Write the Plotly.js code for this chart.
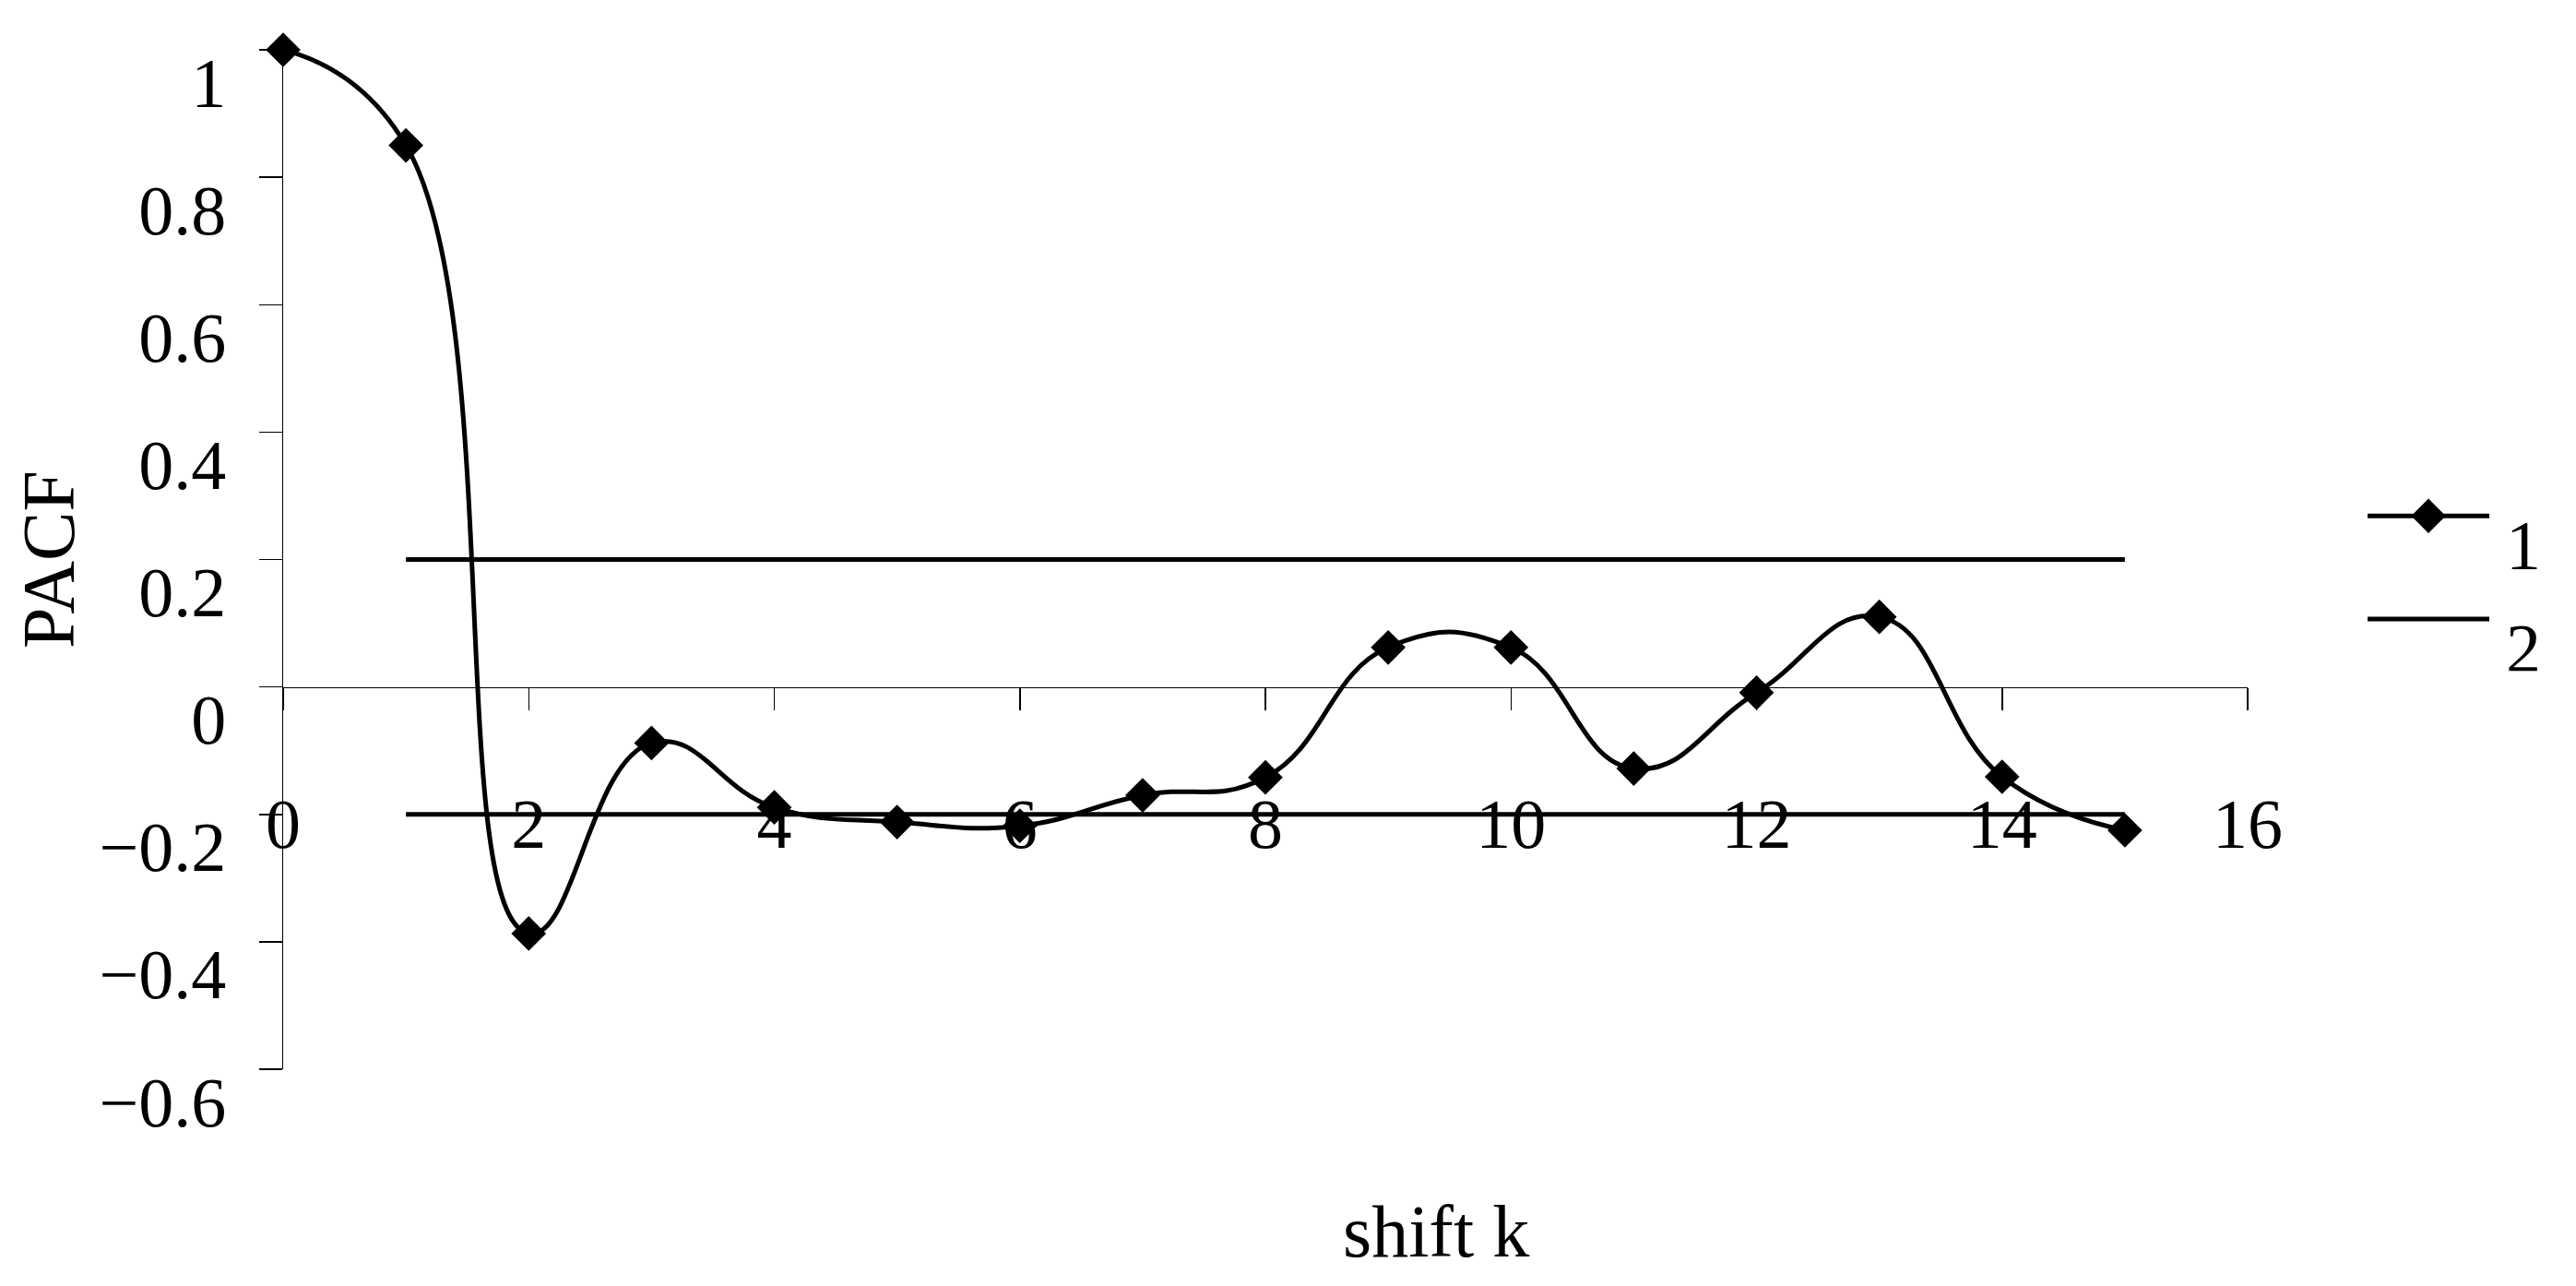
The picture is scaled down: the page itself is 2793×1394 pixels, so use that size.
<!DOCTYPE html>
<html>
<head>
<meta charset="utf-8">
<script src="https://cdn.plot.ly/plotly-3.0.1.min.js"></script>
<style>
  html, body { margin: 0; padding: 0; background: #ffffff; }
  #chart { width: 2793px; height: 1394px; }
</style>
</head>
<body>
<div id="chart"></div>
<script>
// ---- data ----
const shiftK = [0, 1, 2, 3, 4, 5, 6, 7, 8, 9, 10, 11, 12, 13, 14, 15];
const pacf   = [1.0, 0.85, -0.387, -0.088, -0.189, -0.212, -0.218, -0.170, -0.142, 0.062, 0.062, -0.128, -0.009, 0.110, -0.141, -0.225];
const boundX = [1, 15];
const upperBound = 0.2;
const lowerBound = -0.2;
const xTickVals = [0, 2, 4, 6, 8, 10, 12, 14, 16];
const yTickVals = [-0.6, -0.4, -0.2, 0, 0.2, 0.4, 0.6, 0.8, 1];
const seriesNames = ['1', '2'];
const xTitle = 'shift k';
const yTitle = 'PACF';

const FONT = '"Liberation Serif", "Times New Roman", serif';

const boundXs = [boundX[0], boundX[1], null, boundX[0], boundX[1]];
const boundYs = [upperBound, upperBound, null, lowerBound, lowerBound];

const traces = [
  {
    x: shiftK, y: pacf, name: seriesNames[0], type: 'scatter', mode: 'lines+markers',
    line: { color: '#000000', width: 5, shape: 'spline', smoothing: 1.3 },
    marker: { symbol: 'diamond', size: 29, color: '#000000' },
    cliponaxis: false,
    legendgroup: 'a'
  },
  {
    x: boundXs, y: boundYs, name: seriesNames[1], type: 'scatter', mode: 'lines',
    line: { color: '#000000', width: 5 }, connectgaps: false,
    cliponaxis: false,
    legendgroup: 'b'
  }
];

const layout = {
  width: 2793, height: 1394,
  paper_bgcolor: '#ffffff', plot_bgcolor: '#ffffff',
  font: { family: FONT, size: 76, color: '#000000' },
  margin: { l: 307, r: 356, t: 54, b: 235, pad: 0 },
  showlegend: true,
  legend: {
    x: 1.0587, xanchor: 'left', y: 0.492, yanchor: 'middle',
    font: { family: FONT, size: 76, color: '#000000' },
    traceorder: 'grouped', tracegroupgap: 10, itemwidth: 150,
    bgcolor: 'rgba(0,0,0,0)', borderwidth: 0
  },
  xaxis: {
    range: [0, 16], tickvals: xTickVals, ticktext: xTickVals.map(String),
    anchor: 'free', position: 0.375,
    showline: true, linecolor: '#000000', linewidth: 1.5,
    ticks: 'outside', ticklen: 24, tickwidth: 1.5, tickcolor: '#000000',
    ticklabelstandoff: 58, ticklabeloverflow: 'allow',
    showgrid: false, zeroline: false,
    tickfont: { family: FONT, size: 76, color: '#000000' }
  },
  yaxis: {
    range: [-0.6, 1], tickvals: yTickVals,
    showline: true, linecolor: '#000000', linewidth: 1.5,
    ticks: 'outside', ticklen: 25, tickwidth: 1.5, tickcolor: '#000000',
    ticklabelshift: 35, ticklabelstandoff: 20, ticklabeloverflow: 'allow',
    showgrid: false, zeroline: false,
    tickfont: { family: FONT, size: 76, color: '#000000' },
    title: { text: yTitle, font: { family: FONT, size: 80, color: '#000000' }, standoff: 0 }
  },
  annotations: [
    {
      text: xTitle, xref: 'paper', yref: 'paper', x: 0.587, y: -0.159,
      xanchor: 'center', yanchor: 'middle', showarrow: false,
      font: { family: FONT, size: 80, color: '#000000' }
    }
  ]
};

const gd = document.getElementById('chart');
Plotly.newPlot(gd, traces, layout, { displayModeBar: false, staticPlot: true }).then(function () {
  // widen the legend keys (long line, large diamond) as in the reference
  gd.querySelectorAll('.legend .traces').forEach(function (g) {
    g.querySelectorAll('.legendlines path').forEach(function (p) {
      p.setAttribute('d', 'M5,0h132');
      p.style.strokeWidth = '5px';
    });
    g.querySelectorAll('.legendpoints path').forEach(function (p) {
      p.setAttribute('transform', 'translate(71,0) scale(1.8)');
    });
    g.querySelectorAll('text.legendtext').forEach(function (t) {
      t.setAttribute('transform', 'translate(-5,28)');
    });
  });
});
</script>
</body>
</html>
